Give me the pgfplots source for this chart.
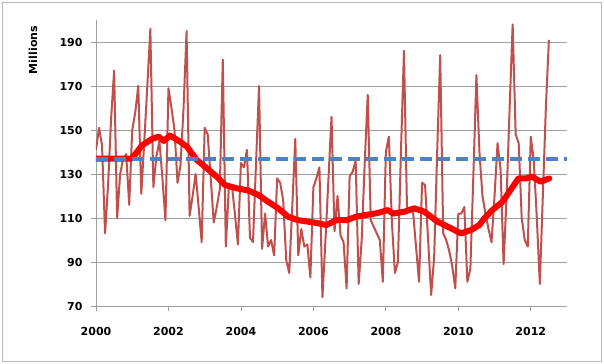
\documentclass[border=0pt]{standalone}
\usepackage{fontspec}
\setmainfont{DejaVu Sans}
\usepackage{pgfplots}
\pgfplotsset{compat=1.18}
\usepackage{pgfplotstable}
\definecolor{serred}{RGB}{192,80,77}
\definecolor{avgblue}{RGB}{79,129,189}
\definecolor{gridgray}{RGB}{160,160,160}
\definecolor{framegray}{RGB}{185,185,185}

\pgfplotstableread{
m v
0 141
1 151
2 143
3 103
4 125
5 155
6 177
7 110
8 130
9 137
10 139
11 116
12 150
13 158
14 170
15 121
16 145
17 170
18 196
19 124
20 138
21 145
22 128
23 109
24 169
25 160
26 150
27 126
28 134
29 160
30 195
31 111
32 120
33 130
34 115
35 99
36 151
37 148
38 128
39 108
40 115
41 123
42 182
43 97
44 124
45 125
46 112
47 98
48 135
49 133
50 141
51 101
52 99
53 135
54 170
55 96
56 112
57 97
58 100
59 93
60 128
61 126
62 118
63 91
64 85
65 115
66 146
67 93
68 105
69 97
70 98
71 83
72 124
73 128
74 133
75 74
76 100
77 128
78 156
79 104
80 120
81 102
82 99
83 78
84 129
85 131
86 136
87 80
88 100
89 135
90 166
91 109
92 106
93 103
94 100
95 81
96 140
97 147
98 108
99 85
100 90
101 140
102 186
103 115
104 114
105 113
106 97
107 81
108 126
109 125
110 100
111 75
112 92
113 140
114 184
115 103
116 100
117 95
118 88
119 78
120 112
121 112
122 115
123 81
124 87
125 130
126 175
127 140
128 120
129 112
130 105
131 99
132 120
133 144
134 132
135 89
136 120
137 160
138 198
139 148
140 144
141 110
142 100
143 97
144 147
145 136
146 110
147 80
148 120
149 160
150 191
}\monthly

\pgfplotstableread{
t a
2000.00 137
2000.99 137
2001.27 143
2001.55 146
2001.73 147
2001.87 145
2002.04 147.5
2002.32 144.7
2002.51 142.4
2002.78 136.4
2003.06 132.6
2003.33 128.8
2003.56 125
2003.89 123.5
2004.20 122.5
2004.48 120.5
2004.75 117.4
2005.03 114.4
2005.30 110.6
2005.58 109
2005.86 108.3
2006.13 107.6
2006.36 106.8
2006.63 109
2006.91 109
2007.18 110.6
2007.46 111.4
2007.73 112.1
2008.06 113.6
2008.20 112
2008.52 112.9
2008.78 114.4
2009.06 112.9
2009.43 108.3
2009.80 105.3
2010.07 103
2010.35 104.5
2010.58 106.8
2010.72 109.9
2010.94 113.6
2011.22 117.4
2011.44 122.7
2011.66 128
2011.86 128
2012.04 128.8
2012.27 126.5
2012.51 128
}\avg

\begin{document}
\begin{tikzpicture}
\useasboundingbox (-96bp,-58bp) rectangle (508bp,306bp);
\fill[white] (-96bp,-58bp) rectangle (508bp,306bp);
\draw[framegray, line width=1bp] (-93.5bp,-55.5bp) rectangle (505.5bp,303.5bp);
\begin{axis}[
  scale only axis, width=471bp, height=286bp,
  xmin=2000, xmax=2013, ymin=70, ymax=200,
  xtick={2000,2002,...,2012}, ytick={70,90,...,190},
  axis x line=bottom, axis y line=left,
  axis line style={draw=gridgray, line width=0.8bp, -},
  tick align=outside, major tick length=5bp,
  tick style={gridgray, line width=0.8bp},
  ymajorgrids, grid style={gridgray, line width=0.8bp},
  /pgf/number format/assume math mode=true,
  /pgf/number format/1000 sep={},
  ticklabel style={font=\fontsize{11bp}{13bp}\selectfont\bfseries},
  xticklabel style={yshift=-13bp},
  yticklabel style={xshift=-5bp},
  clip mode=individual,
]
\addplot[serred, line width=2bp, line join=round] table[x expr=2000+\thisrow{m}/12, y=v] {\monthly};
\addplot[red, line width=6bp, line join=round, line cap=round] table[x=t, y=a] {\avg};
\addplot[avgblue, line width=4bp, dash pattern=on 12bp off 6bp] coordinates {(2000,137) (2013,137)};
\node[rotate=90, font=\fontsize{11bp}{13bp}\selectfont\bfseries] at ([xshift=-63bp]rel axis cs:0,0.895) {Millions};
\end{axis}
\end{tikzpicture}
\end{document}
